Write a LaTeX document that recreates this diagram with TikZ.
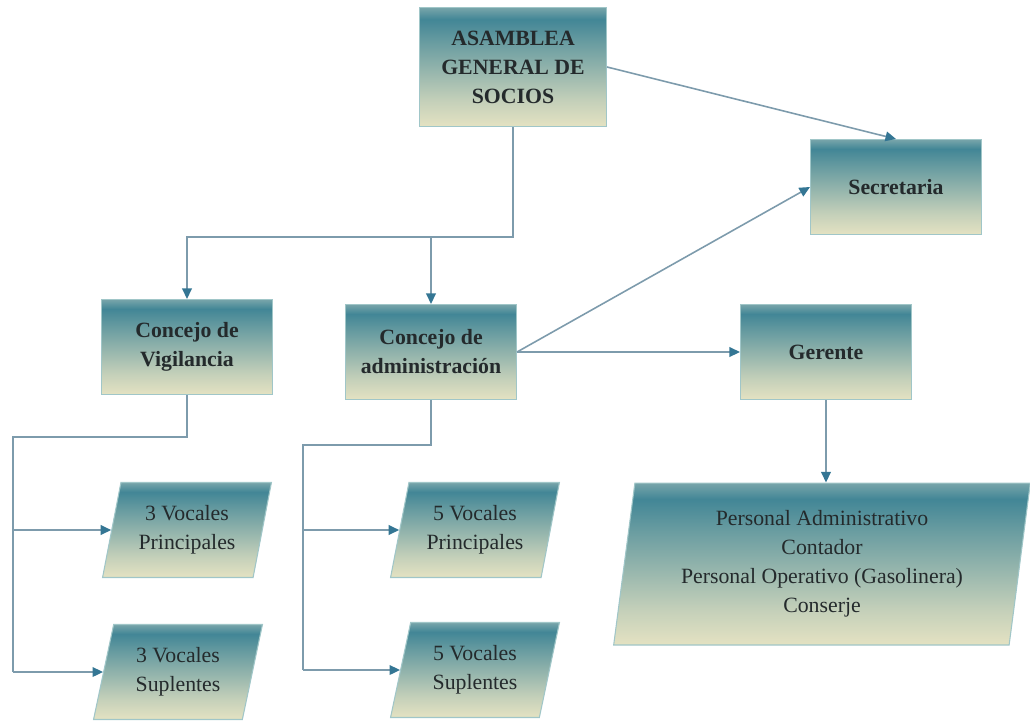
\documentclass[tikz,border=0pt]{standalone}
\usepackage{fontspec}
\setmainfont{Liberation Serif}
\usetikzlibrary{arrows.meta,shapes.geometric}

\definecolor{boxteal}{RGB}{66,134,150}
\definecolor{boxtop}{RGB}{120,165,170}
\definecolor{boxbeige}{RGB}{228,226,194}
\colorlet{boxmidA}{boxbeige!80!boxteal}
\colorlet{boxmidB}{boxteal!75!boxbeige}
\definecolor{boxedge}{RGB}{160,198,200}
\definecolor{linegray}{RGB}{125,155,172}
\definecolor{tipteal}{RGB}{52,118,148}
\definecolor{textgray}{RGB}{36,42,44}

\pgfdeclareverticalshading{orgshade}{100bp}{color(0bp)=(boxbeige); color(25bp)=(boxbeige); color(36bp)=(boxmidA); color(60bp)=(boxmidB); color(70bp)=(boxteal); color(75bp)=(boxtop); color(100bp)=(boxtop)}

\begin{document}
\begin{tikzpicture}[x=0.02cm, y=-0.02cm,
    orgbox/.style={draw=boxedge, line width=0.6pt, shade, shading=orgshade,
        minimum width=3.42cm, minimum height=1.9cm, align=center, text=textgray,
        font=\bfseries\fontsize{12.4}{16.5}\selectfont},
    vocal/.style={trapezium, trapezium left angle=76, trapezium right angle=104,
        trapezium stretches=true, draw=boxedge, line width=0.6pt, shade, shading=orgshade,
        minimum width=3.4cm, minimum height=1.9cm, align=center, text=textgray,
        font=\fontsize{12.4}{16.5}\selectfont},
    wire/.style={draw=linegray, line width=0.9pt},
    conn/.style={wire, -{Triangle[length=6pt,width=5.5pt,color=tipteal]}}]

    \useasboundingbox (0,0) rectangle (1030,721);

    % Define the boxes of the chart
    \node[orgbox, minimum width=3.74cm, minimum height=2.38cm] (asamblea) at (513,67) {ASAMBLEA\\GENERAL DE\\SOCIOS};
    \node[orgbox] (secretaria) at (896,187) {Secretaria};
    \node[orgbox] (vigilancia) at (187,347) {Concejo de\\Vigilancia};
    \node[orgbox] (administracion) at (431,352) {Concejo de\\administración};
    \node[orgbox] (gerente) at (826,352) {Gerente};

    % Define the vocales and the staff
    \node[vocal] (vp3) at (187,530) {3 Vocales\\Principales};
    \node[vocal] (vs3) at (178,672) {3 Vocales\\Suplentes};
    \node[vocal] (vp5) at (475,530) {5 Vocales\\Principales};
    \node[vocal] (vs5) at (475,670) {5 Vocales\\Suplentes};
    \node[vocal, trapezium left angle=82, trapezium right angle=98,
        minimum width=8.34cm, minimum height=3.24cm] (personal) at (822,564)
        {Personal Administrativo\\Contador\\Personal Operativo (Gasolinera)\\Conserje};

    % Define the branching points
    \coordinate (bus) at (513,237);
    \coordinate (vtop) at (13,437);
    \coordinate (vbot) at (13,672);
    \coordinate (atop) at (303,445);
    \coordinate (abot) at (303,670);

    % Draw the connectors from the top
    \draw[conn] (asamblea.east) -- (secretaria.north);
    \draw[conn] (asamblea.south) -- (bus) -| (vigilancia.north);
    \draw[conn] (bus -| administracion.north) -- (administracion.north);
    \draw[conn] (administracion.east) -- (secretaria.west);
    \draw[conn] (administracion.east) -- (gerente.west);
    \draw[conn] (gerente.south) -- (gerente.south |- personal.north);

    % Draw the branches to the vocales
    \draw[wire] (vigilancia.south) |- (vtop) -- (vbot);
    \draw[conn] (vtop |- vp3.west) -- (vp3.west);
    \draw[conn] (vbot) -- (vs3.west);
    \draw[wire] (administracion.south) |- (atop) -- (abot);
    \draw[conn] (atop |- vp5.west) -- (vp5.west);
    \draw[conn] (abot) -- (vs5.west);

\end{tikzpicture}
\end{document}
